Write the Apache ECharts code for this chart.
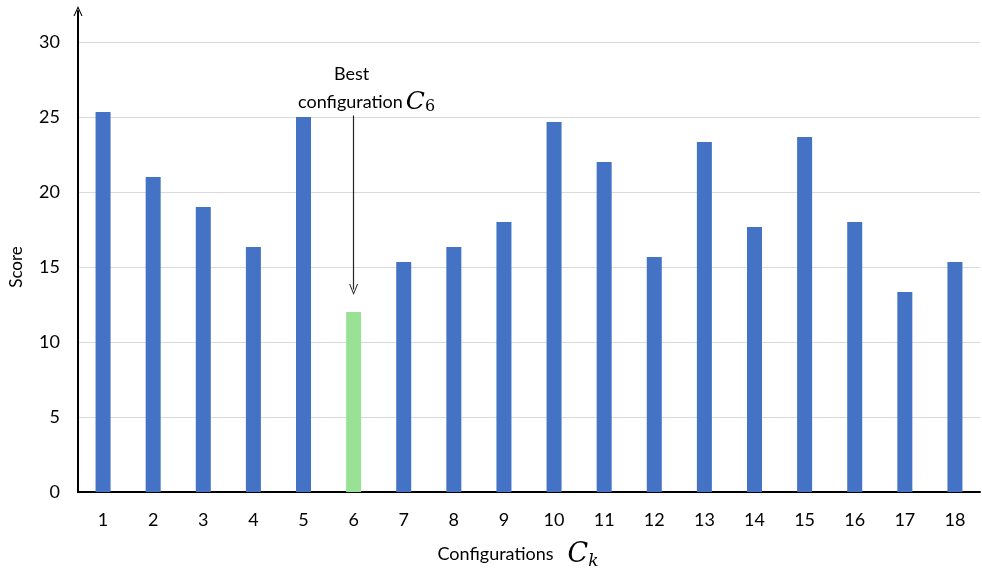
<!DOCTYPE html>
<html>
<head>
<meta charset="utf-8">
<script src="https://cdn.jsdelivr.net/npm/echarts@6/dist/echarts.min.js"></script>
<style>html,body{margin:0;padding:0;background:#fff}#c{width:982px;height:568px}</style>
</head>
<body>
<div id="c"></div>
<script>
const categories = ['1','2','3','4','5','6','7','8','9','10','11','12','13','14','15','16','17','18'];
const scores = [25.33, 21, 19, 16.33, 25, 12, 15.33, 16.33, 18, 24.67, 22, 15.67, 23.33, 17.67, 23.67, 18, 13.33, 15.33];
const bestIndex = 5;
const yTicks = [0, 5, 10, 15, 20, 25, 30];
const arrowTop = 25.1, arrowBottom = 13.5;
const noteLine1Value = 27.85, noteLine2Value = 26.0;

const FONT = 'Lato';
const vArrow = 'path://M5,0 L10,11 L8.8,11 L5,2.6 L1.2,11 L0,11 Z';

const chart = echarts.init(document.getElementById('c'), null, {renderer: 'canvas'});
chart.setOption({
  animation: false,
  grid: [
    {left: 78, right: 2, top: 42, bottom: 76, outerBoundsMode: 'none', containLabel: false},
    {left: 78, right: 2, top: 11, bottom: 76, outerBoundsMode: 'none', containLabel: false}
  ],
  xAxis: [
    {
      type: 'category', data: categories, gridIndex: 0,
      axisLine: {lineStyle: {color: '#000', width: 2}},
      axisTick: {show: false},
      axisLabel: {color: '#000', fontFamily: FONT, fontSize: 18, margin: 19},
      name: '{t|Configurations}{c|C}{k|k}',
      nameLocation: 'middle', nameGap: 47,
      nameTextStyle: {
        padding: [0, 22, 0, 0],
        rich: {
          t: {fontFamily: FONT, fontSize: 18, color: '#000', padding: [0, 14, 0, 0]},
          c: {fontFamily: 'DejaVu Serif', fontStyle: 'italic', fontSize: 27, color: '#000'},
          k: {fontFamily: 'DejaVu Serif', fontStyle: 'italic', fontSize: 17, color: '#000', padding: [14, 0, 0, 0]}
        }
      }
    },
    {type: 'category', data: categories, gridIndex: 1, show: false}
  ],
  yAxis: [
    {
      type: 'value', gridIndex: 0, min: yTicks[0], max: yTicks[yTicks.length - 1], interval: 5,
      axisLine: {show: false},
      axisTick: {show: false},
      axisLabel: {color: '#000', fontFamily: FONT, fontSize: 18, margin: 18},
      splitLine: {lineStyle: {color: '#D9D9D9', width: 1.2}},
      name: 'Score', nameLocation: 'middle', nameGap: 53, nameRotate: 90,
      nameTextStyle: {color: '#000', fontFamily: FONT, fontSize: 17}
    },
    {
      type: 'value', gridIndex: 1, min: 0, max: 1,
      axisLine: {show: true, symbol: ['none', vArrow], symbolSize: [9, 11], symbolOffset: [0, 0], lineStyle: {color: '#000', width: 2}},
      axisTick: {show: false}, axisLabel: {show: false}, splitLine: {show: false}
    }
  ],
  series: [{
    type: 'bar', xAxisIndex: 0, yAxisIndex: 0,
    barWidth: 15,
    data: scores.map((v, i) => i === bestIndex ? {value: v, itemStyle: {color: '#98E195'}} : v),
    itemStyle: {color: '#4472C4'},
    markLine: {
      silent: true,
      symbol: ['none', vArrow],
      symbolSize: [9, 11],
      lineStyle: {color: '#262626', width: 1.2, type: 'solid'},
      label: {show: false},
      data: [[
        {coord: [categories[bestIndex], arrowTop]},
        {coord: [categories[bestIndex], arrowBottom]}
      ]]
    },
    markPoint: {
      silent: true,
      symbol: 'circle',
      symbolSize: 1,
      itemStyle: {color: 'rgba(0,0,0,0)'},
      data: [
        {coord: [categories[bestIndex], noteLine1Value],
         label: {show: true, formatter: 'Best', color: '#000', fontFamily: FONT, fontSize: 18, position: 'inside', offset: [-2, 0]}},
        {coord: [categories[bestIndex], noteLine2Value],
         label: {show: true, formatter: '{t|configuration}{c|C}{s|6}', position: 'inside', offset: [13, 0],
           rich: {
             t: {fontFamily: FONT, fontSize: 18, color: '#000'},
             c: {fontFamily: 'DejaVu Serif', fontStyle: 'italic', fontSize: 25, color: '#000', padding: [0, 0, 0, 3]},
             s: {fontFamily: 'DejaVu Serif', fontSize: 16, color: '#000', padding: [10, 0, 0, 0]}
           }}}
      ]
    }
  }]
});
</script>
</body>
</html>
